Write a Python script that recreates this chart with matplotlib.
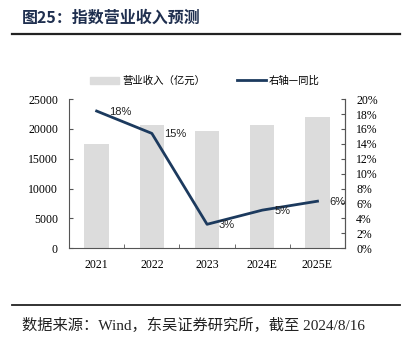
import matplotlib
matplotlib.use("Agg")
import matplotlib.pyplot as plt
from matplotlib.patches import Patch
from matplotlib.lines import Line2D

plt.rcParams["font.family"] = ["Liberation Serif", "Noto Sans CJK SC"]

years = ["2021", "2022", "2023", "2024E", "2025E"]
revenue = [17500, 20600, 19700, 20700, 22000]
yoy = [18.4, 15.4, 3.2, 5.1, 6.3]

navy = "#1C3A5E"
grey = "#DCDCDC"
cjk = ["Noto Sans CJK SC", "DejaVu Sans"]

fig = plt.figure(figsize=(4.06, 3.49), dpi=100)
ax1 = fig.add_axes([0.170, 0.289, 0.680, 0.427])

x = list(range(len(years)))
ax1.bar(x, revenue, width=0.44, color=grey, zorder=1)
ax1.set_xlim(-0.5, 4.5)
ax1.set_ylim(0, 25000)
ax1.set_yticks(range(0, 25001, 5000))
ax1.set_xticks(x)
ax1.set_xticklabels(years)
ax1.set_xticks([0.5, 1.5, 2.5, 3.5], minor=True)
ax1.tick_params(axis="x", which="major", length=0, pad=8, labelsize=8.5)
ax1.tick_params(axis="x", which="minor", direction="in", length=3, color="#555555")
ax1.tick_params(axis="y", direction="in", length=3, pad=8, labelsize=8.5, color="#555555")
ax1.spines["top"].set_visible(False)
for s in ["left", "bottom", "right"]:
    ax1.spines[s].set_color("#555555")
    ax1.spines[s].set_linewidth(0.8)

# yoy growth on right axis
ax2 = ax1.twinx()
ax2.plot(x, yoy, color=navy, linewidth=2, zorder=3)
ax2.set_ylim(0, 20)
ax2.set_yticks(range(0, 21, 2))
ax2.set_yticklabels([f"{v}%" for v in range(0, 21, 2)])
ax2.tick_params(axis="y", direction="in", length=3, pad=8, labelsize=8.5, color="#555555")
for s in ["top", "left", "bottom"]:
    ax2.spines[s].set_visible(False)
ax2.spines["right"].set_color("#555555")
ax2.spines["right"].set_linewidth(0.8)
for xi, v in zip(x, yoy):
    ax2.annotate(f"{v:.0f}%", (xi, v), xytext=(12, -1), textcoords="offset pixels",
                 ha="left", va="center", fontsize=8, family="Liberation Sans", color="#222222")

# legend
handles = [Patch(color=grey), Line2D([0], [0], color=navy, linewidth=2)]
fig.legend(handles, ["营业收入（亿元）", "右轴—同比"], loc="center", bbox_to_anchor=(0.505, 0.768),
           ncol=2, frameon=False, prop={"family": cjk, "size": 7.5},
           handlelength=2.8, columnspacing=3, handletextpad=0.3)

# title, rules and source
fig.text(0.054, 0.948, "图25：指数营业收入预测", fontsize=11.5, fontweight="bold",
         family=cjk, color="#1F2F4F", va="center")
fig.add_artist(Line2D([0.03, 0.985], [0.903, 0.903], color="#222222", linewidth=1.6))
fig.add_artist(Line2D([0.03, 0.985], [0.126, 0.126], color="#222222", linewidth=1.3))
fig.text(0.054, 0.069, "数据来源：Wind，东吴证券研究所，截至 2024/8/16", fontsize=11,
         family=["Liberation Serif", "Noto Sans CJK SC"], color="#222222", va="center")

fig.savefig("out.png", dpi=100)
